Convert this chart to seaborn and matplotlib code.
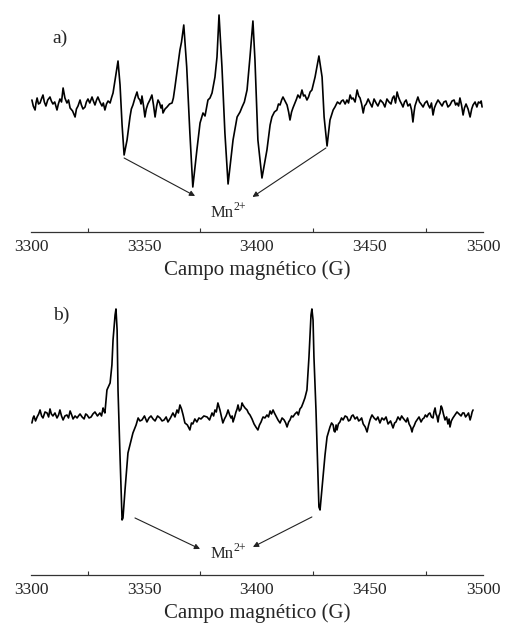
import matplotlib
matplotlib.use("Agg")
import matplotlib.pyplot as plt
import seaborn as sns
import pandas as pd

# spectrum a) : (field in G, derivative signal in arb. units)
spectrum_a = [
    (3300.4, 0), (3301.0, -6), (3301.8, -10), (3302.2, -3), (3302.7, 2), (3303.3, -4),
    (3304.0, -3), (3304.6, 1), (3305.3, 5), (3305.9, -2), (3306.6, -6), (3307.4, 0),
    (3308.4, 3), (3309.0, -1), (3309.7, -4), (3310.5, -2), (3311.5, -10), (3312.1, -4),
    (3312.8, 1), (3313.5, -2), (3314.2, 12), (3315.0, 2), (3315.9, -3), (3316.6, 0),
    (3317.3, -8), (3318.4, -11), (3319.5, -17), (3320.1, -9), (3320.8, -6), (3321.7, 0),
    (3322.3, -5), (3323.0, -9), (3323.9, -7), (3324.5, -2), (3325.2, 1), (3326.0, -3),
    (3327.0, 3), (3327.6, -1), (3328.3, -5), (3329.0, 0), (3329.6, 3), (3330.5, -2),
    (3331.4, -6), (3332.0, -3), (3332.7, -10), (3333.4, -4), (3334.1, -1), (3335.0, -3),
    (3335.6, 2), (3336.3, 7), (3337.2, 20), (3338.5, 39), (3339.4, 15), (3340.3, -25),
    (3341.2, -55), (3342.5, -40), (3343.8, -17), (3344.4, -9), (3345.1, -5), (3346.0, 2),
    (3346.9, 8), (3347.5, 2), (3348.2, 0), (3348.7, -4), (3349.1, 4), (3349.8, -6),
    (3350.4, -17), (3351.0, -9), (3351.7, -4), (3352.6, 0), (3353.5, 5), (3354.2, -5),
    (3354.9, -17), (3355.6, -6), (3356.2, 0), (3356.9, -3), (3357.5, -8), (3358.0, -5),
    (3358.4, -13), (3359.3, -9), (3360.2, -7), (3361.3, -4), (3362.4, -3), (3363.0, 2),
    (3363.7, 13), (3365.0, 35), (3365.9, 50), (3366.6, 58), (3367.6, 75), (3368.9, 33),
    (3370.3, -33), (3371.6, -87), (3373.4, -50), (3374.8, -23), (3376.1, -13), (3377.0, -16),
    (3378.3, 0), (3379.2, 2), (3380.1, 7), (3381.4, 23), (3382.3, 43), (3383.2, 85),
    (3384.5, 33), (3385.8, -33), (3387.2, -84), (3389.4, -40), (3391.2, -17), (3392.5, -12),
    (3393.4, -7), (3394.4, -2), (3395.6, 10), (3396.9, 43), (3398.2, 79), (3399.1, 40),
    (3400.4, -40), (3402.2, -78), (3404.4, -50), (3405.8, -25), (3406.6, -17), (3407.7, -12),
    (3408.8, -10), (3409.5, -4), (3410.2, -5), (3410.9, 0), (3411.5, 3), (3412.4, -1),
    (3413.3, -5), (3414.0, -12), (3414.6, -20), (3415.3, -12), (3415.9, -8), (3416.8, -3),
    (3417.5, 1), (3418.1, 5), (3419.0, 2), (3419.9, 10), (3420.6, 4), (3421.2, 5),
    (3422.1, 0), (3422.8, 3), (3423.5, 8), (3424.3, 10), (3425.7, 23), (3427.4, 44),
    (3428.8, 23), (3429.7, -17), (3431.0, -46), (3432.3, -20), (3433.7, -10), (3434.5, -7),
    (3435.6, -2), (3436.7, -4), (3437.4, -1), (3438.1, 0), (3439.0, -4), (3439.8, 0),
    (3440.5, -3), (3441.2, 5), (3441.9, 1), (3442.5, 2), (3443.4, -2), (3444.3, 10),
    (3445.0, 4), (3445.6, 2), (3446.3, -4), (3447.0, -13), (3447.6, -6), (3448.3, -4),
    (3449.2, 1), (3450.0, -3), (3450.9, -7), (3451.8, 1), (3452.7, -3), (3453.5, -6),
    (3454.6, 0), (3455.8, -3), (3456.6, -7), (3457.5, 1), (3458.4, -2), (3459.3, -4),
    (3460.0, 2), (3460.6, 4), (3461.3, -3), (3462.0, 8), (3462.6, 3), (3463.3, -1),
    (3464.0, -4), (3464.6, -7), (3465.3, -2), (3466.0, 0), (3466.8, -6), (3467.7, -4),
    (3468.4, -10), (3469.0, -22), (3469.5, -12), (3469.9, -6), (3470.6, -1), (3471.2, 3),
    (3471.9, -2), (3472.6, -4), (3473.5, -7), (3474.3, -3), (3475.2, -1), (3475.8, -5),
    (3476.5, -8), (3477.2, -3), (3477.9, -15), (3478.5, -8), (3479.2, -4), (3480.1, 0),
    (3481.0, -3), (3481.9, -6), (3482.7, -2), (3483.6, -1), (3484.5, -7), (3485.4, -5),
    (3486.3, -1), (3487.2, 0), (3487.9, -5), (3488.5, -3), (3489.2, -6), (3489.8, 2),
    (3490.5, -5), (3491.2, -15), (3491.8, -8), (3492.5, -4), (3493.4, -9), (3494.3, -17),
    (3495.0, -9), (3495.6, -5), (3496.5, -2), (3497.3, -7), (3498.0, -2), (3498.7, -3),
    (3499.2, -1), (3499.6, -7),
]

# spectrum b)
spectrum_b = [
    (3300.4, -8), (3300.9, -3), (3301.3, -1), (3302.0, -6), (3302.7, -2), (3303.4, 1),
    (3304.0, 5), (3304.7, -1), (3305.3, -3), (3306.2, 3), (3307.1, 2), (3307.8, -2),
    (3308.4, 6), (3309.0, 1), (3309.7, -1), (3310.6, 2), (3311.5, -3), (3312.2, 0),
    (3312.8, 5), (3313.5, -1), (3314.2, -5), (3315.0, -1), (3315.9, 0), (3316.6, -3),
    (3317.3, 4), (3318.0, 0), (3318.6, -4), (3319.5, -1), (3320.4, -3), (3321.0, -1),
    (3321.7, 1), (3322.6, -2), (3323.5, -4), (3324.2, 1), (3324.8, 0), (3325.7, -3),
    (3326.6, -2), (3327.4, 1), (3328.3, 3), (3329.4, -1), (3330.5, 2), (3331.2, -1),
    (3331.9, 7), (3332.3, 4), (3332.7, 2), (3333.6, 25), (3335.0, 32), (3335.8, 50),
    (3336.3, 75), (3337.2, 100), (3337.6, 106), (3338.1, 85), (3338.5, 25), (3339.4, -42),
    (3340.3, -105), (3340.7, -103), (3341.6, -75), (3342.9, -38), (3343.8, -30), (3345.1, -18),
    (3346.5, -10), (3347.4, -3), (3348.2, -6), (3349.1, -5), (3350.2, -1), (3351.3, -7),
    (3352.2, -3), (3353.1, -1), (3354.0, -4), (3354.9, -6), (3356.0, -1), (3357.1, -3),
    (3358.0, -6), (3358.9, -5), (3359.8, -2), (3360.6, -7), (3361.7, -3), (3362.8, 2),
    (3363.7, -2), (3364.6, 5), (3365.2, 2), (3365.9, 10), (3366.6, 6), (3367.3, 0),
    (3368.1, -8), (3369.2, -10), (3370.3, -15), (3371.0, -8), (3371.6, -9), (3372.5, -4),
    (3373.4, -7), (3374.3, -3), (3375.2, -4), (3376.5, -1), (3377.9, -2), (3379.0, -5),
    (3380.1, 2), (3380.8, -1), (3381.4, 5), (3382.0, 3), (3382.7, 12), (3383.2, 8),
    (3383.6, 5), (3384.3, -2), (3384.9, -8), (3385.6, -4), (3386.3, -1), (3386.8, 2),
    (3387.2, 5), (3387.9, 0), (3388.5, -3), (3389.0, -1), (3389.4, -7), (3390.1, -2),
    (3390.7, 3), (3391.2, 6), (3391.6, 10), (3392.2, 4), (3392.9, 6), (3393.4, 12),
    (3393.8, 10), (3394.7, 7), (3395.6, 5), (3396.2, 2), (3396.9, 0), (3397.8, -4),
    (3398.7, -9), (3399.5, -12), (3400.4, -15), (3401.1, -10), (3401.8, -7), (3402.3, -4),
    (3402.7, -2), (3403.5, -3), (3404.4, 0), (3405.1, -2), (3405.8, 4), (3406.4, 1),
    (3407.1, 5), (3407.7, 2), (3408.4, -1), (3409.3, -5), (3410.2, -8), (3411.1, -3),
    (3412.0, -5), (3412.7, -8), (3413.3, -12), (3414.0, -7), (3414.6, -5), (3415.3, -1),
    (3415.9, -2), (3416.8, 1), (3417.7, 3), (3418.3, 0), (3419.0, 6), (3419.7, 8),
    (3420.4, 12), (3421.2, 17), (3422.1, 25), (3423.0, 58), (3423.9, 100), (3424.3, 106),
    (3424.8, 95), (3425.2, 58), (3426.1, 5), (3426.5, -25), (3427.4, -92), (3427.9, -95),
    (3428.3, -85), (3429.2, -62), (3430.1, -40), (3431.0, -22), (3432.3, -12), (3433.0, -8),
    (3433.7, -10), (3434.1, -16), (3434.5, -17), (3435.0, -10), (3435.4, -15), (3436.0, -9),
    (3436.7, -7), (3437.4, -3), (3438.1, -5), (3439.0, -1), (3439.8, -2), (3440.5, -6),
    (3441.2, -5), (3441.9, -1), (3442.5, 0), (3443.4, -4), (3444.3, -2), (3445.0, -6),
    (3445.6, -5), (3446.3, -3), (3447.0, -9), (3447.9, -12), (3448.7, -17), (3449.4, -10),
    (3450.0, -5), (3450.5, -2), (3450.9, 0), (3451.8, -3), (3452.7, -5), (3453.5, -2),
    (3454.4, -8), (3455.3, -3), (3456.2, -5), (3457.1, -2), (3458.0, -9), (3459.1, -6),
    (3460.2, -13), (3460.9, -8), (3461.5, -7), (3462.4, -2), (3463.3, -5), (3464.0, -1),
    (3464.6, -3), (3465.3, -5), (3466.0, -7), (3466.6, -3), (3467.3, -9), (3468.0, -12),
    (3468.6, -17), (3469.0, -13), (3469.5, -11), (3470.2, -7), (3470.8, -5), (3471.7, -2),
    (3472.6, -7), (3473.3, -4), (3473.9, -3), (3474.5, 0), (3475.2, -2), (3475.9, 1),
    (3476.5, 2), (3477.2, -2), (3477.9, -3), (3478.3, 3), (3478.8, 7), (3479.2, 1),
    (3479.6, -1), (3480.1, -7), (3480.5, -1), (3481.0, 2), (3481.5, 9), (3481.9, 7),
    (3482.5, 1), (3483.2, -5), (3483.9, -2), (3484.5, -9), (3485.0, -4), (3485.4, -12),
    (3486.0, -6), (3486.7, -3), (3487.6, 0), (3488.5, 3), (3489.4, 1), (3490.3, -1),
    (3491.0, 2), (3491.6, 2), (3492.3, -2), (3493.0, 0), (3493.6, 2), (3494.3, -5),
    (3494.8, -1), (3495.2, 3), (3495.6, 5),
]

ticks = [3300, 3350, 3400, 3450, 3500]
minor_ticks = [3325, 3375, 3425, 3475]
xlabel = "Campo magnético (G)"
ion_name = "Mn"
ion_charge = "2+"

# arrows: (start field, start signal) -> (end field, end signal)
arrows_a = [((3341.2, -58), (3372.6, -96)), ((3430.5, -48), (3398.0, -97))]
arrows_b = [((3346.0, -103), (3374.8, -134)), ((3424.3, -102), (3398.2, -132))]

sns.set_style("white")
plt.rcParams['font.family'] = ['Liberation Serif', 'DejaVu Serif']

df_a = pd.DataFrame(spectrum_a, columns=["field", "signal"])
df_b = pd.DataFrame(spectrum_b, columns=["field", "signal"])

fig = plt.figure(figsize=(5.05, 6.27), dpi=100)
ax_a = fig.add_axes([0.0614, 0.630, 0.895, 0.370])
ax_b = fig.add_axes([0.0614, 0.083, 0.895, 0.4625])

panels = [(ax_a, df_a, "a)", 0.836, arrows_a, (3389.5, -113), (-132, 100)),
          (ax_b, df_b, "b)", 0.895, arrows_b, (3389.5, -139), (-160, 130))]

for ax, df, tag, tag_y, arrs, lab_pos, ylim in panels:
    sns.lineplot(data=df, x="field", y="signal", ax=ax, color="black",
                 linewidth=1.2, sort=False)
    ax.set_xlim(3300, 3500)
    ax.set_ylim(*ylim)
    ax.set_yticks([])
    ax.set_ylabel("")
    ax.set_xticks(ticks)
    ax.set_xticks(minor_ticks, minor=True)
    ax.tick_params(axis="x", which="major", direction="in", length=5, width=0.9,
                   labelsize=12.5, pad=5, color="#333333")
    ax.tick_params(axis="x", which="minor", direction="in", length=3, width=0.8,
                   color="#333333", bottom=True)
    for s in ["top", "left", "right"]:
        ax.spines[s].set_visible(False)
    ax.spines["bottom"].set_linewidth(0.9)
    ax.spines["bottom"].set_color("#333333")
    ax.set_xlabel(xlabel, fontsize=15, labelpad=4)
    ax.patch.set_alpha(0)
    ax.text(0.048, tag_y, tag, transform=ax.transAxes,
            fontsize=14, ha="left", va="center")
    for (x0, y0), (x1, y1) in arrs:
        ax.annotate("", xy=(x1, y1), xytext=(x0, y0),
                    arrowprops=dict(arrowstyle="-|>", color="#222222", lw=0.8,
                                    mutation_scale=8, shrinkA=0, shrinkB=0))
    # ion label: name plus raised charge
    ax.text(lab_pos[0], lab_pos[1], ion_name, fontsize=12, ha="right", va="center")
    ax.annotate(ion_charge, xy=lab_pos, xytext=(0.3, 4.5), textcoords="offset points",
                fontsize=8.5, ha="left", va="center")

fig.savefig("out.png", dpi=100)
